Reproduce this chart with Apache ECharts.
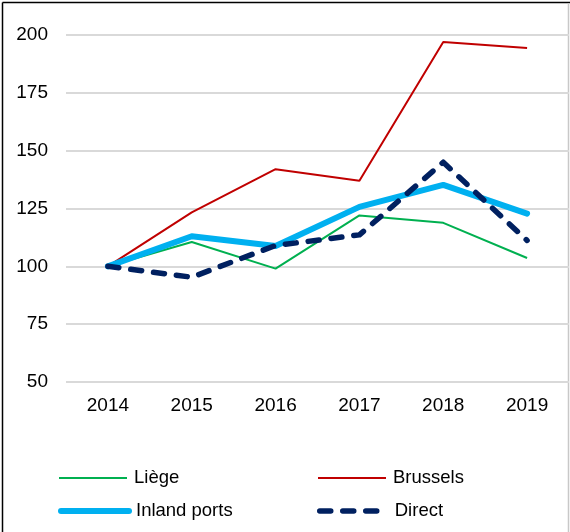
<!DOCTYPE html>
<html><head><meta charset="utf-8">
<script src="https://cdn.jsdelivr.net/npm/echarts@6/dist/echarts.min.js"></script>
<style>html,body{margin:0;padding:0;background:#fff}#c{width:570px;height:532px}</style>
</head><body><div id="c"></div>
<script>
const years = ['2014','2015','2016','2017','2018','2019'];
const liege = [100, 110.5, 99, 122, 118.8, 103.6];
const brussels = [100, 123.3, 142, 137, 197, 194.4];
const inland = [100, 113, 108.8, 125.7, 135.2, 122.8];
const direct = [100, 95.3, 109, 113.6, 145, 111.2];
const yTicks = [50, 75, 100, 125, 150, 175, 200];

const font = 'Liberation Sans, Arial, sans-serif';
const styles = {
  'Liège': {color: '#00B050', width: 2},
  'Brussels': {color: '#C00000', width: 2},
  'Inland ports': {color: '#00B0F0', width: 6, cap: 'round', join: 'round'},
  'Direct': {color: '#002060', width: 5.5, type: [11, 12], cap: 'round', join: 'round'}
};
function leg(name, left, top) {
  return {
    left: left, top: top, itemWidth: 68, itemHeight: 20, itemGap: 0, padding: 0,
    textStyle: {color: '#000', fontFamily: font, fontSize: 18.5, lineHeight: 20, padding: [0, 0, 0, 2]},
    itemStyle: {opacity: 0},
    data: [{name: name, lineStyle: Object.assign({}, styles[name]), itemStyle: {opacity: 0}}]
  };
}
const chart = echarts.init(document.getElementById('c'), null, {renderer: 'canvas'});
chart.setOption({
  animation: false,
  backgroundColor: '#fff',
  grid: {left: 66, right: 1, top: 35, height: 347},
  xAxis: {
    type: 'category', data: years, boundaryGap: true,
    axisLine: {show: false}, axisTick: {show: false},
    axisLabel: {color: '#000', fontFamily: font, fontSize: 19, margin: 14}
  },
  yAxis: {
    type: 'value', min: yTicks[0], max: yTicks[yTicks.length - 1], interval: 25,
    axisLine: {show: false}, axisTick: {show: false},
    axisLabel: {color: '#000', fontFamily: font, fontSize: 19, margin: 18},
    splitLine: {lineStyle: {color: '#d9d9d9', width: 2}}
  },
  legend: [
    leg('Liège', 58, 468),
    leg('Inland ports', 58, 501),
    leg('Brussels', 317, 468),
    leg('Direct', 317, 501)
  ],
  series: [
    {name: 'Liège', type: 'line', data: liege, symbol: 'none', z: 2,
     color: '#00B050', lineStyle: styles['Liège']},
    {name: 'Brussels', type: 'line', data: brussels, symbol: 'none', z: 2,
     color: '#C00000', lineStyle: styles['Brussels']},
    {name: 'Inland ports', type: 'line', data: inland, symbol: 'none', z: 3,
     color: '#00B0F0', lineStyle: styles['Inland ports']},
    {name: 'Direct', type: 'line', data: direct, symbol: 'none', z: 4,
     color: '#002060', lineStyle: styles['Direct']}
  ],
  graphic: [
    {type: 'line', shape: {x1: 2.5, y1: 2.5, x2: 570, y2: 2.5}, style: {stroke: '#000', lineWidth: 1.5}},
    {type: 'line', shape: {x1: 2.5, y1: 2.5, x2: 2.5, y2: 532}, style: {stroke: '#000', lineWidth: 1.5}},
    {type: 'line', shape: {x1: 568.5, y1: 3, x2: 568.5, y2: 532}, style: {stroke: '#c8c8c8', lineWidth: 1.5}}
  ]
});
</script></body></html>
